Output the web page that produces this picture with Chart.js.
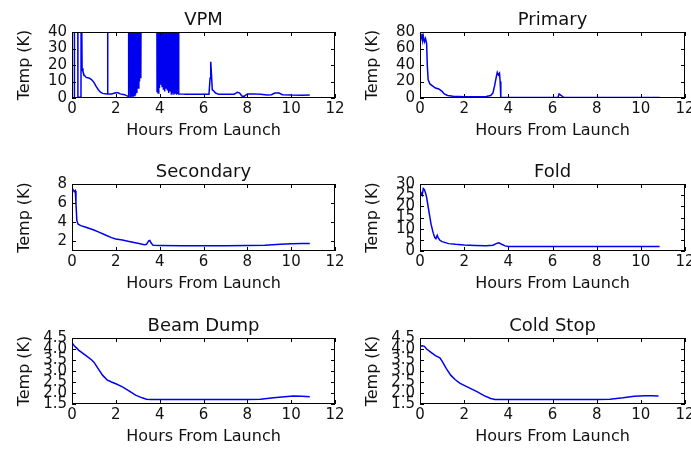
<!DOCTYPE html>
<html>
<head>
<meta charset="utf-8">
<script src="https://cdn.jsdelivr.net/npm/chart.js@4/dist/chart.umd.min.js"></script>
<style>
  html, body { margin: 0; padding: 0; background: #fff; overflow: hidden; }
  #wrap { position: relative; width: 691px; height: 452px; }
  canvas { position: absolute; }
</style>
</head>
<body>
<div id="wrap">
  <canvas id="cVPM"></canvas>
  <canvas id="cPrimary"></canvas>
  <canvas id="cSecondary"></canvas>
  <canvas id="cFold"></canvas>
  <canvas id="cBeam"></canvas>
  <canvas id="cCold"></canvas>
</div>
<script>
// Data (hours from launch, temperature in K)
const xTicks = [0, 2, 4, 6, 8, 10, 12];

const vpmHours = [0.10, 0.11, 0.26, 0.27, 0.41, 0.42, 0.44, 0.46, 0.50, 0.55, 0.65, 0.80, 0.90, 1.00, 1.10, 1.20, 1.30, 1.40,
  1.60, 1.62, 1.63, 1.64, 1.80, 2.00, 2.10, 2.20, 2.40, 2.55,
  2.56, 2.57, 2.60, 2.63, 2.66, 2.69, 2.72, 2.75, 2.78, 2.81, 2.84, 2.87, 2.90, 2.93, 2.96, 2.99, 3.02, 3.05, 3.08, 3.11, 3.14, 3.16,
  3.87, 3.88, 3.90, 3.93, 3.96, 3.99, 4.02, 4.05, 4.08, 4.11, 4.14, 4.17, 4.20, 4.23, 4.26, 4.29, 4.32, 4.35, 4.38, 4.41, 4.44,
  4.47, 4.50, 4.53, 4.56, 4.59, 4.62, 4.65, 4.68, 4.71, 4.74, 4.77, 4.80, 4.83, 4.85, 4.87,
  4.90, 5.20, 5.60, 6.00, 6.25, 6.30, 6.33, 6.36, 6.40, 6.45, 6.55, 6.70, 7.00, 7.40, 7.55, 7.65, 7.75, 7.85, 8.00, 8.30, 8.60,
  8.90, 9.10, 9.25, 9.45, 9.60, 10.00, 10.50, 10.85];
const vpmTemp = [0.5, 90, 90, 0.5, 0.5, 90, 90, 18, 16, 14, 12.5, 12, 11, 9.5, 7, 5, 3.5, 2.8,
  2.5, 2.5, 90, 2.5, 2.5, 3.2, 3.2, 2.5, 2, 1,
  1, 90, 0.5, 90, 0.3, 90, 1, 90, 0.5, 90, 1.5, 90, 2, 90, 3, 90, 6, 90, 10, 90, 12, 90,
  90, 4, 90, 3, 90, 6, 90, 8, 90, 7, 90, 5, 90, 4, 90, 6, 90, 5, 90, 3, 90,
  4, 90, 2.5, 90, 3, 90, 2, 90, 3, 90, 2, 90, 2.5, 90, 2.5,
  2.5, 2.3, 2.2, 2.2, 2.3, 12, 22, 15, 5, 4.5, 3, 2.2, 2.2, 2.3, 3.5, 3, 1.2, 1.0, 2.5, 2.5, 2.3,
  1.8, 2.0, 3, 3, 2, 1.8, 1.7, 1.8];

const primaryHours = [0.00, 0.03, 0.06, 0.09, 0.12, 0.15, 0.20, 0.25, 0.30, 0.33, 0.37, 0.45, 0.55, 0.70, 0.85, 1.00, 1.10,
  1.25, 1.50, 2.00, 2.50, 3.00, 3.20, 3.30, 3.38, 3.45, 3.50, 3.55, 3.60, 3.63, 3.66, 4.00, 6.00, 6.25, 6.30, 6.40, 6.50, 7.00, 10.85];
const primaryTemp = [70, 76, 72, 78, 70, 75, 68, 72, 66, 40, 22, 17, 15, 12, 11, 8, 5,
  3, 2, 1.5, 1.5, 1.8, 3, 6, 15, 25, 31, 28, 30, 20, 0.6, 0.6, 0.6, 1, 5, 3, 0.8, 0.6, 0.6];

const secondaryHours = [0.00, 0.05, 0.10, 0.15, 0.18, 0.22, 0.28, 0.40, 0.60, 0.80, 1.00, 1.20, 1.50, 1.80, 2.00, 2.30, 2.60,
  3.00, 3.30, 3.40, 3.50, 3.55, 3.62, 3.70, 4.00, 5.00, 6.00, 7.00, 8.00, 8.80, 9.50, 10.00, 10.50, 10.85];
const secondaryTemp = [7.3, 7.4, 7.2, 7.3, 6, 4.2, 3.8, 3.65, 3.5, 3.35, 3.2, 3.0, 2.7, 2.4, 2.25, 2.15, 2.0,
  1.8, 1.65, 1.7, 2.05, 2.1, 1.8, 1.6, 1.58, 1.56, 1.56, 1.56, 1.58, 1.6, 1.7, 1.75, 1.78, 1.78];

const foldHours = [0.00, 0.05, 0.10, 0.15, 0.20, 0.25, 0.30, 0.35, 0.40, 0.45, 0.50, 0.55, 0.60, 0.67, 0.72, 0.78, 0.82, 0.90,
  1.00, 1.30, 1.60, 2.00, 2.50, 3.00, 3.30, 3.50, 3.58, 3.70, 3.85, 4.00, 6.00, 8.00, 10.85];
const foldTemp = [24, 26, 25, 28, 27.5, 26, 24, 21, 18, 15, 12, 10, 8, 6, 5.5, 7, 6, 4.8,
  4.2, 3.3, 3.0, 2.7, 2.5, 2.3, 2.6, 3.5, 3.7, 3.0, 2.3, 2.0, 2.0, 2.0, 2.0];

const beamHours = [0.00, 0.05, 0.10, 0.20, 0.30, 0.50, 0.70, 0.90, 1.00, 1.20, 1.40, 1.60, 1.80, 2.00, 2.30, 2.60, 2.90,
  3.20, 3.40, 3.60, 4.00, 6.00, 8.00, 8.60, 9.20, 9.70, 10.10, 10.50, 10.85];
const beamTemp = [4.2, 4.22, 4.15, 4.05, 3.95, 3.8, 3.65, 3.5, 3.4, 3.1, 2.8, 2.6, 2.5, 2.42, 2.28, 2.1, 1.9,
  1.78, 1.72, 1.7, 1.7, 1.7, 1.7, 1.72, 1.78, 1.83, 1.86, 1.85, 1.83];

const coldHours = [0.00, 0.10, 0.20, 0.30, 0.50, 0.70, 0.90, 1.00, 1.20, 1.40, 1.60, 1.80, 2.00, 2.30, 2.60, 2.90,
  3.20, 3.40, 4.00, 6.00, 8.00, 8.60, 9.20, 9.70, 10.20, 10.50, 10.80];
const coldTemp = [4.12, 4.15, 4.12, 4.0, 3.85, 3.7, 3.6, 3.45, 3.1, 2.8, 2.6, 2.45, 2.35, 2.2, 2.05, 1.88,
  1.75, 1.7, 1.7, 1.7, 1.7, 1.72, 1.78, 1.85, 1.88, 1.87, 1.86];

const FONT = "'DejaVu Sans', sans-serif";
const INK = '#111';

// draws the axes box with inward ticks on all four sides
const frame = {
  id: 'frame',
  afterDatasetsDraw(chart) {
    const { ctx, chartArea: a, scales: { x, y } } = chart;
    const len = 4;
    ctx.save();
    ctx.strokeStyle = '#000';
    ctx.lineWidth = 1;
    ctx.beginPath();
    x.ticks.forEach(t => {
      const px = Math.round(x.getPixelForValue(t.value)) + 0.5;
      ctx.moveTo(px, a.top); ctx.lineTo(px, a.top + len);
      ctx.moveTo(px, a.bottom); ctx.lineTo(px, a.bottom - len);
    });
    y.ticks.forEach(t => {
      const py = Math.round(y.getPixelForValue(t.value)) + 0.5;
      ctx.moveTo(a.left, py); ctx.lineTo(a.left + len, py);
      ctx.moveTo(a.right, py); ctx.lineTo(a.right - len, py);
    });
    ctx.stroke();
    ctx.strokeRect(a.left + 0.5, a.top + 0.5, a.right - a.left - 1, a.bottom - a.top - 1);
    ctx.restore();
  }
};

function makePanel(id, title, hours, temps, yMin, yMax, yStep, box) {
  const yAxisW = 72, xAxisH = 50, topH = 40, rightPad = 14;
  const canvas = document.getElementById(id);
  const w = yAxisW + box.w + rightPad;
  const h = topH + box.h + xAxisH;
  canvas.width = w; canvas.height = h;
  canvas.style.left = (box.left - yAxisW) + 'px';
  canvas.style.top = (box.top - topH) + 'px';
  canvas.style.width = w + 'px';
  canvas.style.height = h + 'px';

  new Chart(canvas.getContext('2d'), {
    type: 'line',
    data: {
      datasets: [{
        data: hours.map((hr, i) => ({ x: hr, y: temps[i] })),
        borderColor: '#0000f0',
        borderWidth: 1.5,
        pointRadius: 0,
        tension: 0,
        fill: false
      }]
    },
    options: {
      responsive: false,
      animation: false,
      devicePixelRatio: 1,
      layout: { padding: { left: 0, right: rightPad, top: 0, bottom: 0 } },
      plugins: {
        legend: { display: false },
        tooltip: { enabled: false },
        title: {
          display: true,
          text: title,
          fullSize: false,
          color: INK,
          font: { family: FONT, size: 18, weight: 'normal', lineHeight: 1 },
          padding: { top: 19, bottom: 3 }
        }
      },
      scales: {
        x: {
          type: 'linear',
          min: 0, max: 12,
          afterBuildTicks: s => { s.ticks = xTicks.map(v => ({ value: v })); },
          grid: { display: false, drawTicks: false },
          border: { display: false },
          ticks: { color: INK, padding: 2, autoSkip: false, maxRotation: 0, font: { family: FONT, size: 15 } },
          title: {
            display: true, text: 'Hours From Launch', color: INK,
            font: { family: FONT, size: 16, lineHeight: 1 },
            padding: { top: 0, bottom: 9 }
          },
          afterFit: s => { s.height = xAxisH; s.paddingLeft = 0; s.paddingRight = 0; }
        },
        y: {
          type: 'linear',
          min: yMin, max: yMax,
          grid: { display: false, drawTicks: false },
          border: { display: false },
          ticks: { stepSize: yStep, includeBounds: false, autoSkip: false, color: INK, padding: 5, font: { family: FONT, size: 15 } },
          title: {
            display: true, text: 'Temp (K)', color: INK,
            font: { family: FONT, size: 16, lineHeight: 1 },
            padding: { top: 17, bottom: 0 }
          },
          afterFit: s => { s.width = yAxisW; s.paddingTop = 0; s.paddingBottom = 0; }
        }
      }
    },
    plugins: [frame]
  });
}

makePanel('cVPM', 'VPM', vpmHours, vpmTemp, 0, 40, 10, { left: 72, top: 32, w: 263, h: 66 });
makePanel('cPrimary', 'Primary', primaryHours, primaryTemp, 0, 80, 20, { left: 420, top: 32, w: 265, h: 66 });
makePanel('cSecondary', 'Secondary', secondaryHours, secondaryTemp, 1, 8, 2, { left: 72, top: 184, w: 263, h: 67 });
makePanel('cFold', 'Fold', foldHours, foldTemp, 0, 30, 5, { left: 420, top: 184, w: 265, h: 67 });
makePanel('cBeam', 'Beam Dump', beamHours, beamTemp, 1.5, 4.5, 0.5, { left: 72, top: 338, w: 263, h: 66 });
makePanel('cCold', 'Cold Stop', coldHours, coldTemp, 1.5, 4.5, 0.5, { left: 420, top: 338, w: 265, h: 66 });
</script>
</body>
</html>
